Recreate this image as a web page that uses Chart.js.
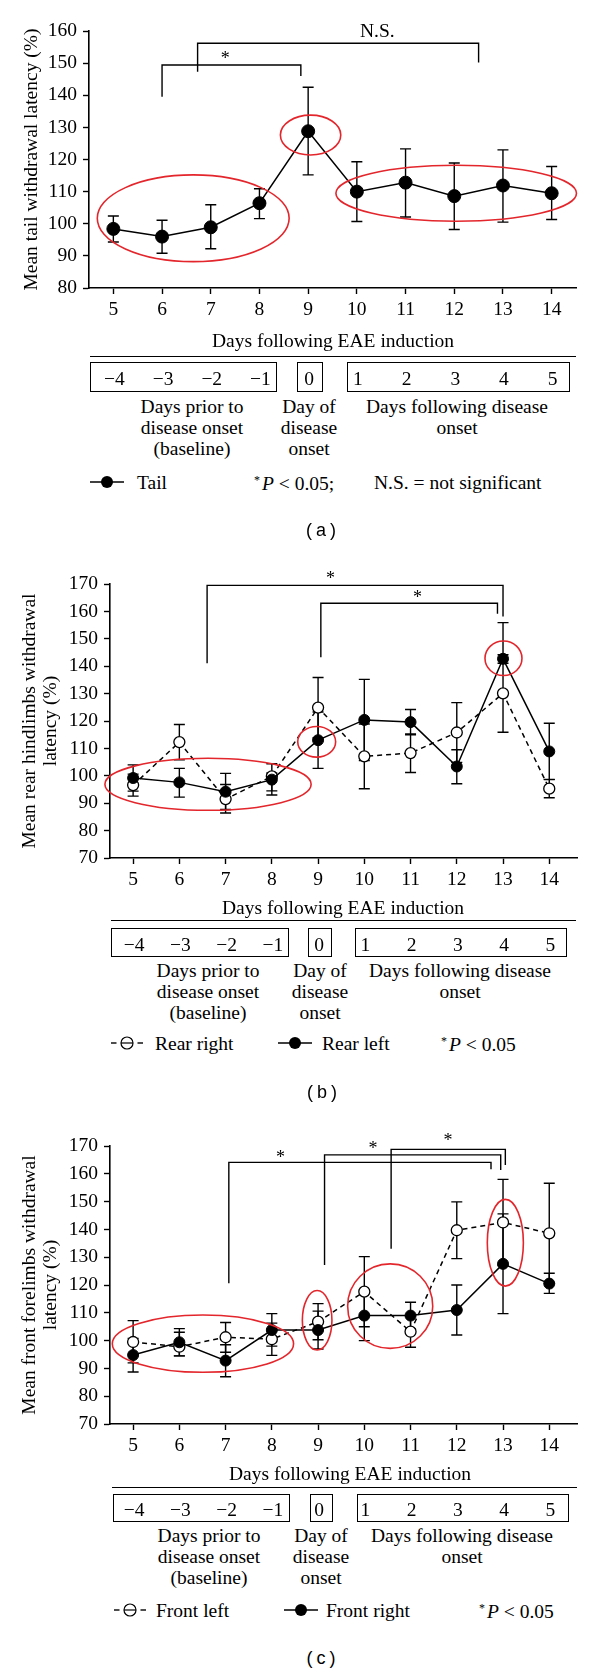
<!DOCTYPE html>
<html>
<head>
<meta charset="utf-8">
<title>Withdrawal latency after EAE induction</title>
<script src="https://cdn.jsdelivr.net/npm/chart.js@4.4.1/dist/chart.umd.min.js"></script>
<style>
  body { margin: 0; background: #fff; }
  #page { position: relative; width: 600px; height: 1673px; overflow: hidden; font-family: "Liberation Serif", "Times New Roman", serif; color: #000; }
  canvas { position: absolute; left: 0; }
  .txt { position: absolute; font-size: 19.5px; line-height: 21px; white-space: nowrap; }
  .mid { transform: translate(-50%, -50%); text-align: center; }
  .desc { transform: translateX(-50%); text-align: center; }
  .left { transform: translateY(-50%); }
  .rule { position: absolute; height: 0; border-top: 1.6px solid #000; }
  .box { position: absolute; border: 1.6px solid #000; box-sizing: border-box; }
  .mark { position: absolute; }
  .tag { position: absolute; font-family: "Liberation Sans", Arial, sans-serif; font-size: 18px; letter-spacing: 4px; padding-left: 4px; transform: translate(-50%, -50%); }
  sup { font-size: 12px; vertical-align: 6px; margin-right: 2px; }
</style>
</head>
<body>
<div id="page">
  <canvas id="chartA" width="600" height="330" style="top:0px"></canvas>
  <canvas id="chartB" width="600" height="360" style="top:540px"></canvas>
  <canvas id="chartC" width="600" height="366" style="top:1100px"></canvas>
</div>
<script>
// days after EAE induction and the same days counted from disease onset
const days = [5, 6, 7, 8, 9, 10, 11, 12, 13, 14];
const onsetDays = ['−4', '−3', '−2', '−1', '0', '1', '2', '3', '4', '5'];

// (a) tail
const tailMean = [98.4, 96.0, 98.9, 106.4, 128.8, 110.0, 112.8, 108.6, 111.9, 109.5];
const tailHigh = [102.4, 101.1, 105.9, 110.9, 142.5, 119.3, 123.3, 118.9, 123.0, 117.8];
const tailLow = [94.3, 90.8, 92.2, 101.6, 115.2, 100.7, 102.1, 98.2, 100.5, 101.3];

// (b) rear hindlimbs
const rearRightMean = [96.6, 112.3, 91.5, 99.8, 124.9, 107.1, 108.3, 115.8, 130.1, 95.3];
const rearRightHigh = [100.6, 118.7, 96.8, 104.4, 135.9, 118.9, 115.3, 126.7, 155.9, 98.6];
const rearRightLow = [92.6, 105.8, 86.4, 94.5, 113.9, 95.3, 101.2, 104.9, 115.9, 92.0];
const rearLeftMean = [99.2, 97.6, 94.2, 98.6, 113.0, 120.4, 119.6, 103.4, 142.7, 108.9];
const rearLeftHigh = [104.0, 102.7, 100.9, 101.0, 123.3, 135.2, 124.2, 109.5, 144.2, 119.2];
const rearLeftLow = [94.4, 92.2, 87.7, 93.0, 102.7, 105.6, 115.0, 97.1, 141.1, 98.7];

// (c) front forelimbs
const frontLeftMean = [99.5, 97.8, 101.2, 100.5, 106.8, 117.6, 103.2, 139.7, 142.5, 138.6];
const frontLeftHigh = [107.2, 103.0, 106.5, 106.3, 113.3, 130.2, 108.8, 149.9, 158.0, 156.6];
const frontLeftLow = [92.0, 94.5, 95.8, 94.7, 100.3, 105.0, 97.6, 129.5, 127.0, 120.6];
const frontRightMean = [94.8, 99.4, 92.8, 103.8, 103.8, 109.0, 109.0, 111.0, 127.6, 120.5];
const frontRightHigh = [100.8, 104.3, 98.5, 109.7, 110.6, 118.1, 113.8, 120.0, 145.6, 124.2];
const frontRightLow = [88.7, 94.5, 87.0, 98.0, 97.0, 100.0, 104.2, 102.0, 109.7, 117.0];

// significance brackets: from day, to day, top, left end, right end, label, label day, label value
const bracketsA = [
  [6.0, 8.85, 149.4, 139.5, 146.0, '*', 7.3, 152.3],
  [6.73, 12.5, 156.2, 147.3, 150.2, 'N.S.', 10.42, 159.8]
];
const bracketsB = [
  [6.6, 13.0, 169.5, 141.1, 158.1, '*', 9.27, 173.3],
  [9.06, 12.88, 163.0, 143.3, 159.1, '*', 11.15, 166.2]
];
const bracketsC = [
  [7.07, 12.74, 164.1, 120.6, 161.6, '*', 8.19, 167.0],
  [9.14, 12.95, 166.8, 127.2, 161.4, '*', 10.19, 170.3],
  [10.58, 13.05, 168.8, 133.0, 163.2, '*', 11.81, 173.3]
];

// red rings: centre day, centre value, half width (days), half height
const ringsA = [[6.64, 101.7, 1.97, 13.5], [9.05, 127.6, 0.62, 6.2], [12.04, 109.5, 2.47, 8.7]];
const ringsB = [[6.62, 96.9, 2.23, 9.5], [8.97, 112.4, 0.41, 5.6], [13.01, 142.9, 0.40, 6.3]];
const ringsC = [[6.51, 98.9, 1.96, 10.3], [8.98, 107.3, 0.32, 10.7], [10.56, 112.4, 0.92, 15.2], [13.05, 135.2, 0.39, 15.6]];

const xTitle = 'Days following EAE induction';
const keyGroups = [['Days prior to', 'disease onset', '(baseline)'], ['Day of', 'disease', 'onset'], ['Days following disease', 'onset']];

Chart.defaults.font.family = '"Liberation Serif", "Times New Roman", serif';
Chart.defaults.font.size = 19.5;
Chart.defaults.color = '#000';

function series(mean, filled, radius) {
  return {
    data: days.map((d, i) => ({ x: d, y: mean[i] })),
    borderColor: '#000',
    borderWidth: 1.5,
    borderDash: filled ? [] : [5, 4],
    pointRadius: radius,
    pointBackgroundColor: filled ? '#000' : '#fff',
    pointBorderColor: '#000',
    pointBorderWidth: filled ? 1 : 1.3,
    order: filled ? 0 : 1
  };
}

function extrasFor(p) {
  return {
    id: 'extras',
    beforeDatasetsDraw(chart) {
      const { ctx, scales: { x, y } } = chart;
      ctx.save();
      ctx.strokeStyle = '#000';
      ctx.lineWidth = 1.4;
      p.errors.forEach(([high, low]) => {
        high.forEach((h, i) => {
          const px = x.getPixelForValue(days[i]);
          const top = y.getPixelForValue(h);
          const bot = y.getPixelForValue(low[i]);
          ctx.beginPath();
          ctx.moveTo(px, top); ctx.lineTo(px, bot);
          ctx.moveTo(px - 5.5, top); ctx.lineTo(px + 5.5, top);
          ctx.moveTo(px - 5.5, bot); ctx.lineTo(px + 5.5, bot);
          ctx.stroke();
        });
      });
      ctx.restore();
    },
    afterDraw(chart) {
      const { ctx, scales: { x, y } } = chart;
      ctx.save();
      ctx.strokeStyle = '#e3262c';
      ctx.lineWidth = 1.6;
      p.rings.forEach(([cx, cy, rx, ry]) => {
        const px = x.getPixelForValue(cx);
        const py = y.getPixelForValue(cy);
        ctx.beginPath();
        ctx.ellipse(px, py, Math.abs(x.getPixelForValue(cx + rx) - px), Math.abs(y.getPixelForValue(cy + ry) - py), 0, 0, Math.PI * 2);
        ctx.stroke();
      });

      ctx.strokeStyle = '#000';
      ctx.fillStyle = '#000';
      ctx.lineWidth = 1.4;
      ctx.textAlign = 'center';
      ctx.textBaseline = 'middle';
      p.brackets.forEach(([from, to, top, leftEnd, rightEnd, label, lx, ly]) => {
        const x1 = x.getPixelForValue(from);
        const x2 = x.getPixelForValue(to);
        const yt = y.getPixelForValue(top);
        ctx.beginPath();
        ctx.moveTo(x1, y.getPixelForValue(leftEnd));
        ctx.lineTo(x1, yt);
        ctx.lineTo(x2, yt);
        ctx.lineTo(x2, y.getPixelForValue(rightEnd));
        ctx.stroke();
        const star = label === '*';
        ctx.font = (star ? '18px' : '19.5px') + ' "Liberation Serif", serif';
        ctx.fillText(label, x.getPixelForValue(lx), y.getPixelForValue(ly) + (star ? 4 : 0));
      });
      ctx.restore();
    }
  };
}

function makeChart(id, p) {
  const axisGrid = { drawOnChartArea: false, tickLength: 6, tickColor: '#000', tickWidth: 1.4 };
  const axisBorder = { color: '#000', width: 1.6 };
  return new Chart(document.getElementById(id), {
    type: 'line',
    data: { datasets: p.datasets },
    options: {
      responsive: false,
      animation: false,
      events: [],
      layout: { padding: { top: p.padTop, right: p.padRight, left: 0, bottom: 0 } },
      plugins: { legend: { display: false }, tooltip: { enabled: false } },
      scales: {
        x: {
          type: 'linear',
          min: p.xMin,
          max: p.xMax,
          afterBuildTicks: s => { s.ticks = days.map(v => ({ value: v })); },
          afterFit: s => { s.height = p.xHeight; },
          grid: axisGrid,
          border: axisBorder,
          ticks: { padding: 4, autoSkip: false, maxRotation: 0 }
        },
        y: {
          min: p.yMin,
          max: p.yMax,
          afterFit: s => { s.width = p.yWidth; },
          grid: axisGrid,
          border: axisBorder,
          ticks: { stepSize: 10, padding: 6 },
          title: { display: true, text: p.yTitle, padding: { top: p.titlePad, bottom: 0 }, font: { size: 19.5, lineHeight: 1.1 } }
        }
      }
    },
    plugins: [extrasFor(p)]
  });
}

function markSvg(kind) {
  if (kind === 'solid') {
    return '<svg width="34" height="14"><line x1="0" y1="7" x2="34" y2="7" stroke="#000" stroke-width="1.6"/>' +
      '<circle cx="17" cy="7" r="6" fill="#000"/></svg>';
  }
  return '<svg width="32" height="14"><line x1="0" y1="7" x2="5.5" y2="7" stroke="#000" stroke-width="1.4"/>' +
    '<line x1="26.5" y1="7" x2="32" y2="7" stroke="#000" stroke-width="1.4"/>' +
    '<circle cx="16" cy="7" r="6" fill="#fff" stroke="#000" stroke-width="1.2"/>' +
    '<line x1="10" y1="7" x2="22" y2="7" stroke="#000" stroke-width="1.2"/></svg>';
}

// text and boxes under each x axis, plus legend and panel letter
function addKey(chart, k) {
  const page = document.getElementById('page');
  const add = (html, cls, style) => {
    const el = document.createElement('div');
    el.className = cls;
    el.innerHTML = html;
    Object.assign(el.style, style);
    page.appendChild(el);
  };
  const xs = chart.scales.x;

  add(xTitle, 'txt mid', { left: k.titleX + 'px', top: k.titleY + 'px' });
  add('', 'rule', { left: k.ruleX[0] + 'px', width: (k.ruleX[1] - k.ruleX[0]) + 'px', top: k.ruleY + 'px' });
  k.boxes.forEach(([l, r]) => {
    add('', 'box', { left: l + 'px', width: (r - l) + 'px', top: k.boxY + 'px', height: k.boxH + 'px' });
  });
  onsetDays.forEach((t, i) => {
    add(t, 'txt mid', { left: (xs.getPixelForValue(days[i]) + 1) + 'px', top: (k.boxY + k.boxH / 2 + 1) + 'px' });
  });
  keyGroups.forEach((lines, i) => {
    add(lines.join('<br>'), 'txt desc', { left: k.descX[i] + 'px', top: k.descY + 'px' });
  });
  k.legend.forEach(([kind, mx, label, lx]) => {
    add(markSvg(kind), 'mark', { left: mx + 'px', top: (k.legendY - 7) + 'px' });
    add(label, 'txt left', { left: lx + 'px', top: k.legendY + 'px' });
  });
  k.notes.forEach(([html, nx]) => {
    add(html, 'txt left', { left: nx + 'px', top: k.legendY + 'px' });
  });
  add(k.tag, 'tag', { left: k.tagX + 'px', top: k.tagY + 'px' });
}

const chartA = makeChart('chartA', {
  datasets: [series(tailMean, true, 6.5)],
  errors: [[tailHigh, tailLow]],
  rings: ringsA,
  brackets: bracketsA,
  xMin: 4.5, xMax: 14.5, yMin: 80, yMax: 160,
  padTop: 31, padRight: 24, xHeight: 42, yWidth: 89, titlePad: 21,
  yTitle: 'Mean tail withdrawal latency (%)'
});

const chartB = makeChart('chartB', {
  datasets: [series(rearLeftMean, true, 5.5), series(rearRightMean, false, 5.5)],
  errors: [[rearRightHigh, rearRightLow], [rearLeftHigh, rearLeftLow]],
  rings: ringsB,
  brackets: bracketsB,
  xMin: 4.5, xMax: 14.6, yMin: 70, yMax: 170,
  padTop: 44, padRight: 23, xHeight: 42, yWidth: 110, titlePad: 19,
  yTitle: ['Mean rear hindlimbs withdrawal', 'latency (%)']
});

const chartC = makeChart('chartC', {
  datasets: [series(frontRightMean, true, 5.5), series(frontLeftMean, false, 5.5)],
  errors: [[frontLeftHigh, frontLeftLow], [frontRightHigh, frontRightLow]],
  rings: ringsC,
  brackets: bracketsC,
  xMin: 4.5, xMax: 14.6, yMin: 70, yMax: 170,
  padTop: 46, padRight: 23, xHeight: 42, yWidth: 110, titlePad: 19,
  yTitle: ['Mean front forelimbs withdrawal', 'latency (%)']
});

const pNote = '<sup>*</sup><i>P</i> &lt; 0.05';

addKey(chartA, {
  titleX: 333, titleY: 340, ruleX: [90, 576], ruleY: 356,
  boxY: 362, boxH: 30, boxes: [[90, 277], [297, 323], [347, 570]],
  descY: 396, descX: [192, 309, 457],
  legendY: 482, legend: [['solid', 90, 'Tail', 137]],
  notes: [[pNote + ';', 254], ['N.S. = not significant', 374]],
  tag: '(a)', tagX: 321, tagY: 530
});

addKey(chartB, {
  titleX: 343, titleY: 907, ruleX: [111, 576], ruleY: 920,
  boxY: 928, boxH: 29, boxes: [[111, 289], [308, 332], [355, 567]],
  descY: 960, descX: [208, 320, 460],
  legendY: 1043, legend: [['open', 111, 'Rear right', 155], ['solid', 278, 'Rear left', 322]],
  notes: [[pNote, 441]],
  tag: '(b)', tagX: 322, tagY: 1092
});

addKey(chartC, {
  titleX: 350, titleY: 1473, ruleX: [112, 577], ruleY: 1487,
  boxY: 1494, boxH: 28, boxes: [[113, 290], [310, 333], [357, 569]],
  descY: 1525, descX: [209, 321, 462],
  legendY: 1610, legend: [['open', 114, 'Front left', 156], ['solid', 284, 'Front right', 326]],
  notes: [[pNote, 479]],
  tag: '(c)', tagX: 321, tagY: 1658
});
</script>
</body>
</html>
